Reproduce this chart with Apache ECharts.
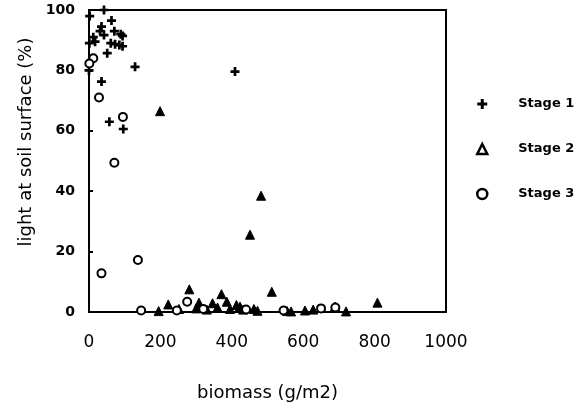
<!DOCTYPE html>
<html>
<head>
<meta charset="utf-8">
<script src="https://cdn.jsdelivr.net/npm/echarts@6/dist/echarts.min.js"></script>
<style>html,body{margin:0;padding:0;background:#fff}#c{width:585px;height:408px}</style>
</head>
<body>
<div id="c"></div>
<script>
// Data: [biomass g/m2, light at soil surface %]
var stage1 = [
  [42,100],[2,98],[63,96.5],[35,94.5],[31,93],[71,93],[89,92],[42,91.7],[12,91],[94,91.4],
  [1,89],[17,89.5],[61,89],[73,88.7],[85,88.4],[94,88],[51,85.7],[0,80],[129,81.2],
  [35,76.3],[57,63],[96,60.6],[409,79.6]
];
var stage2 = [
  [199,66.5],[482,38.5],[451,25.6],[281,7.5],[371,5.9],[512,6.7],[808,3.1],[222,2.5],
  [308,3.1],[346,2.9],[386,3.4],[413,2.3],[423,1.8],[689,1.8],
  [195,0.3],[252,1.0],[300,1.2],[330,0.8],[360,1.5],[395,1.0],[432,0.8],[462,1.0],
  [472,0.4],[555,0.3],[566,0.2],[605,0.5],[628,0.8],[720,0.2]
];
var stage3 = [
  [12,84],[1,82.3],[28,71],[95,64.6],[71,49.4],[35,12.8],[137,17.2],
  [146,0.5],[246,0.5],[275,3.4],[320,1.0],[440,0.8],[545,0.5],[650,1.2],[690,1.5]
];
var seriesNames = ['Stage 1','Stage 2','Stage 3'];
var xTicks = [0,200,400,600,800,1000];
var yTicks = [0,20,40,60,80,100];

var plusPath = 'path://M3.5,0h3v3.5h3.5v3h-3.5v3.5h-3v-3.5h-3.5v-3h3.5z';
var font = 'DejaVu Sans, Liberation Sans, Arial, sans-serif';

var chart = echarts.init(document.getElementById('c'), null, {renderer:'canvas'});
chart.setOption({
  animation:false,
  backgroundColor:'#fff',
  grid:{left:89,right:139,top:10,bottom:96,show:true,borderColor:'#000',borderWidth:2,backgroundColor:'transparent'},
  xAxis:{
    type:'value',min:xTicks[0],max:xTicks[xTicks.length-1],interval:200,
    name:'biomass (g/m2)',nameLocation:'middle',nameGap:72,
    nameTextStyle:{fontFamily:font,fontSize:18,color:'#000'},
    axisLine:{show:true,lineStyle:{color:'#000',width:2}},
    axisTick:{show:false},
    splitLine:{show:false},
    axisLabel:{fontFamily:font,fontSize:17,color:'#000',margin:22,formatter:function(v){return String(v);}}
  },
  yAxis:{
    type:'value',min:yTicks[0],max:yTicks[yTicks.length-1],interval:20,
    name:'light at soil surface (%)',nameLocation:'middle',nameGap:48,nameRotate:90,
    nameTextStyle:{fontFamily:font,fontSize:18,color:'#000',padding:[0,0,0,38]},
    axisLine:{show:true,lineStyle:{color:'#000',width:2}},
    axisTick:{show:true,inside:true,length:4,lineStyle:{color:'#000',width:2}},
    splitLine:{show:false},
    axisLabel:{fontFamily:font,fontSize:14,fontWeight:'bold',color:'#000',margin:14}
  },
  legend:{
    orient:'vertical',left:471,top:92,itemWidth:10,itemHeight:10,itemGap:31,
    textStyle:{fontFamily:font,fontSize:13,fontWeight:'bold',color:'#000',lineHeight:14,padding:[0,0,0,26]},
    data:[
      {name:seriesNames[0],icon:plusPath},
      {name:seriesNames[1],icon:'triangle',itemStyle:{color:'#fff',borderColor:'#000',borderWidth:2.5}},
      {name:seriesNames[2],icon:'circle',itemStyle:{color:'#fff',borderColor:'#000',borderWidth:2.5}}
    ]
  },
  series:[
    {name:seriesNames[0],type:'scatter',data:stage1,symbol:plusPath,symbolSize:9,
     itemStyle:{color:'#000',opacity:1}},
    {name:seriesNames[1],type:'scatter',data:stage2,symbol:'triangle',symbolSize:9,
     itemStyle:{color:'#000',borderColor:'#000',borderWidth:1,opacity:1}},
    {name:seriesNames[2],type:'scatter',data:stage3,symbol:'circle',symbolSize:8,
     itemStyle:{color:'#fff',borderColor:'#000',borderWidth:2,opacity:1}}
  ]
});
</script>
</body>
</html>
